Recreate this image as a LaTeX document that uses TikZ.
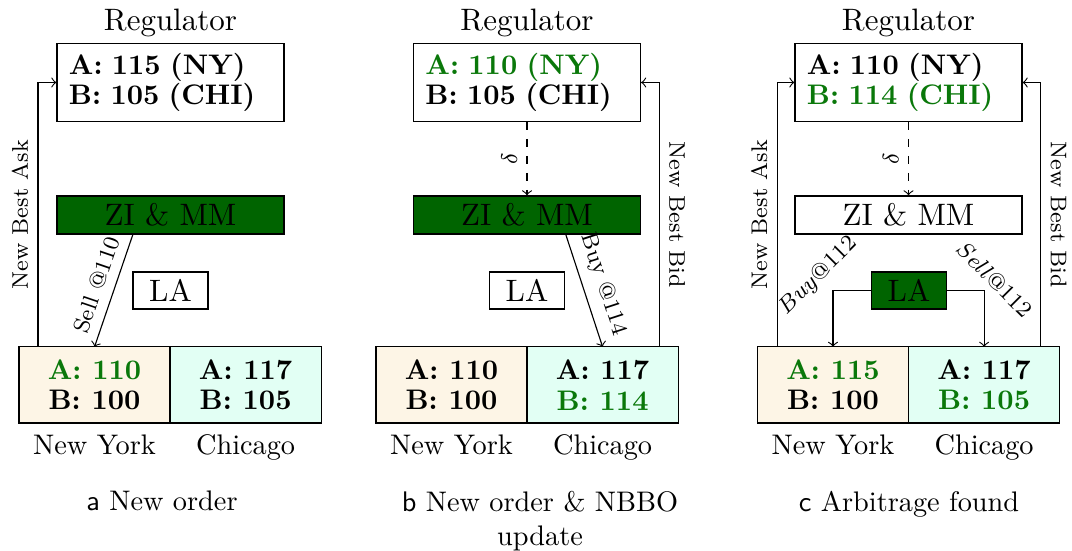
\documentclass[tikz,border=0pt]{standalone}
\usepackage{tikz}
\usetikzlibrary{arrows,calc,positioning}
\definecolor{nyfill}{HTML}{FDF5E6}
\definecolor{chifill}{HTML}{E2FFF4}
\definecolor{mmgreen}{HTML}{006400}
\definecolor{updgreen}{HTML}{0A780A}
\newcommand{\chg}[1]{\textcolor{updgreen}{#1}}
\tikzset{
  regbox/.style={draw, text width=71.8pt, inner xsep=4.2pt, minimum height=26.5pt, align=left, font=\fontsize{10}{10.8}\selectfont\bfseries},
  agentbox/.style={draw, minimum width=80.2pt, minimum height=13.4pt, inner sep=0pt, font=\fontsize{10.95}{13.6}\selectfont},
  labox/.style={draw, minimum width=26.5pt, minimum height=13.1pt, inner sep=0pt, font=\fontsize{10.95}{13.6}\selectfont},
  exch/.style={draw, outer sep=0pt, minimum width=53.4pt, minimum height=26.9pt, align=center, font=\fontsize{10}{10.8}\selectfont\bfseries},
  regtitle/.style={font=\fontsize{10.95}{13.6}\selectfont},
  msg/.style={font=\fontsize{8}{9.5}\selectfont},
  capt/.style={anchor=north, align=center},
}
\begin{document}
\begin{tikzpicture}[x=0.3534pt, y=0.3534pt, >=to]
\useasboundingbox (0,0) rectangle (1072,551);
% (a) new order
\node[regbox] (rega) at (170.5,468.5) {A: 115 (NY)\\B: 105 (CHI)};
\node[regtitle, above=-1.5pt of rega] (tita) {Regulator};
\node[agentbox, fill=mmgreen] (zimma) at (170.5,336) {ZI \& MM};
\node[labox] (laa) at (170.5,260.5) {LA};
\node[exch, fill=nyfill] (nya) at (94.5,166) {\chg{A: 110}\\B: 100};
\node[exch, fill=chifill, right=0pt of nya] (chia) {A: 117\\B: 105};
\node[below=0.5pt of nya] (nylaba) {New York};
\node[below=0.5pt of chia] (chilaba) {Chicago};
\coordinate (aska) at ($(nya.north west)!0.126!(nya.north east)$);
\coordinate (sella) at ($(zimma.south west)!0.335!(zimma.south east)$);
\draw[->] (aska) |- node[pos=0.25, msg, anchor=south, rotate=90] {New Best Ask} (rega.west);
\draw[->] (sella) -- node[msg, above, sloped] {Sell @110} (nya.north);
\node[capt] (capa) at (162,70) {\textsf{a} New order};

% (b) new order and NBBO update
\node[regbox] (regb) at (527,468.5) {\chg{A: 110 (NY)}\\B: 105 (CHI)};
\node[regtitle, above=-1.5pt of regb] (titb) {Regulator};
\node[agentbox, fill=mmgreen] (zimmb) at (527,336) {ZI \& MM};
\node[labox] (lab) at (527,260.5) {LA};
\node[exch, fill=nyfill] (nyb) at (451.5,166) {A: 110\\B: 100};
\node[exch, fill=chifill, right=0pt of nyb] (chib) {A: 117\\\chg{B: 114}};
\node[below=0.5pt of nyb] (nylabb) {New York};
\node[below=0.5pt of chib] (chilabb) {Chicago};
\coordinate (buyb) at ($(zimmb.south west)!0.67!(zimmb.south east)$);
\coordinate (bidb) at ($(chib.north west)!0.874!(chib.north east)$);
\draw[->, dashed] (regb.south) -- node[msg, anchor=south, rotate=90] {$\delta$} (zimmb.north);
\draw[->] (buyb) -- node[msg, above, sloped] {Buy @114} (chib.north);
\draw[->] (bidb) |- node[pos=0.25, msg, anchor=south, rotate=-90] {New Best Bid} (regb.east);
\node[capt] (capb) at (540,70) {\textsf{b} New order \& NBBO\\update};

% (c) arbitrage found
\node[regbox] (regc) at (908.5,468.5) {A: 110 (NY)\\\chg{B: 114 (CHI)}};
\node[regtitle, above=-1.5pt of regc] (titc) {Regulator};
\node[agentbox] (zimmc) at (908.5,336) {ZI \& MM};
\node[labox, fill=mmgreen] (lac) at (909,260.5) {LA};
\node[exch, fill=nyfill] (nyc) at (833,166) {\chg{A: 115}\\B: 100};
\node[exch, fill=chifill, right=0pt of nyc] (chic) {A: 117\\\chg{B: 105}};
\node[below=0.5pt of nyc] (nylabc) {New York};
\node[below=0.5pt of chic] (chilabc) {Chicago};
\coordinate (askc) at ($(nyc.north west)!0.132!(nyc.north east)$);
\coordinate (bidc) at ($(chic.north west)!0.874!(chic.north east)$);
\draw[->, dashed] (regc.south) -- node[msg, anchor=south, rotate=90] {$\delta$} (zimmc.north);
\draw[->] (askc) |- node[pos=0.25, msg, anchor=south, rotate=90] {New Best Ask} (regc.west);
\draw[->] (bidc) |- node[pos=0.25, msg, anchor=south, rotate=-90] {New Best Bid} (regc.east);
\draw[->] (lac.west) -| (nyc.north);
\draw[->] (lac.east) -| (chic.north);
\node[msg, rotate=45] (buyc) at ($(lac.west -| nyc.north)+(-15,14.5)$) {$Buy@112$};
\node[msg, rotate=-45] (sellc) at ($(lac.east -| chic.north)+(10.5,11)$) {$Sell@112$};
\node[capt] (capc) at (909,70) {\textsf{c} Arbitrage found};
\end{tikzpicture}
\end{document}
